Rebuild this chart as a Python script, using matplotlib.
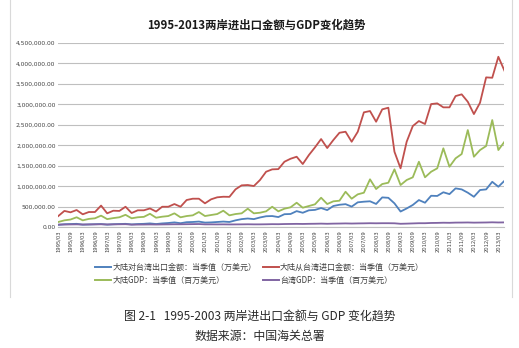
import numpy as np
import matplotlib
matplotlib.use('Agg')
import matplotlib.pyplot as plt
from matplotlib.lines import Line2D

plt.rcParams['font.family'] = ['Noto Sans CJK SC', 'DejaVu Sans']

# quarterly, 1995Q1 .. 2013Q2
quarters = [f'{y}/{m:02d}' for y in range(1995, 2014) for m in (3, 6, 9, 12)][:74]

# 大陆对台湾出口金额 (万美元)
export_tw = [60, 75, 80, 85, 65, 70, 75, 80, 65, 75, 80, 85, 70, 80, 85, 95,
             80, 95, 105, 120, 100, 125, 130, 140, 115, 120, 130, 140, 130, 170, 200, 215,
             200, 240, 270, 275, 250, 320, 325, 395, 355, 415, 425, 470, 420, 520, 550, 565,
             505, 610, 625, 635, 570, 730, 720, 585, 385, 460, 545, 665, 600, 770, 765, 855,
             810, 950, 925, 845, 745, 910, 925, 1110, 990, 1135]
# 大陆从台湾进口金额 (万美元)
import_tw = [275, 400, 366, 422, 317, 373, 373, 530, 341, 405, 400, 502, 349, 415, 415, 460,
             385, 502, 502, 568, 502, 666, 698, 698, 585, 683, 732, 746, 743, 927, 1024, 1032,
             1007, 1154, 1356, 1414, 1420, 1600, 1673, 1722, 1544, 1763, 1951, 2154, 1934, 2129, 2307, 2332,
             2088, 2332, 2805, 2837, 2576, 2878, 2918, 1844, 1439, 2088, 2471, 2593, 2520, 3007, 3024, 2927,
             2927, 3202, 3244, 3063, 2763, 3039, 3658, 3649, 4161, 3820]
# 大陆GDP (百万美元)
gdp_cn = [130, 170, 190, 245, 170, 205, 220, 285, 200, 225, 245, 305, 220, 245, 255, 330,
          234, 259, 275, 341, 244, 275, 292, 373, 275, 300, 324, 405, 292, 324, 341, 454,
          341, 356, 390, 502, 390, 454, 488, 600, 478, 520, 561, 722, 568, 634, 649, 868,
          698, 805, 844, 1171, 934, 1056, 1088, 1415, 1032, 1154, 1220, 1600, 1220, 1356, 1439, 1927,
          1478, 1683, 1788, 2373, 1722, 1885, 1983, 2617, 1885, 2088]
# 台湾GDP (百万美元)
gdp_tw = [66, 68, 70, 72, 68, 70, 72, 74, 70, 72, 74, 76, 66, 67, 68, 70,
          68, 70, 72, 74, 74, 76, 78, 80, 72, 72, 71, 72, 70, 71, 72, 74,
          72, 72, 74, 77, 76, 80, 82, 84, 82, 85, 87, 90, 86, 90, 92, 95,
          92, 95, 97, 100, 98, 100, 100, 98, 86, 90, 95, 100, 100, 106, 108, 112,
          110, 115, 116, 118, 114, 116, 118, 122, 118, 120]

labels = ['大陆对台湾出口金额：当季值（万美元）', '大陆从台湾进口金额：当季值（万美元）',
          '大陆GDP：当季值（百万美元）', '台湾GDP：当季值（百万美元）']
colors = ['#4F81BD', '#C0504D', '#9BBB59', '#8064A2']

fig = plt.figure(figsize=(5.19, 3.48), dpi=100)
ax = fig.add_axes([0.1123, 0.3468, 0.8597, 0.530])

x = np.arange(len(quarters))
series = [export_tw, import_tw, gdp_cn, gdp_tw]
for vals, c in zip(series, colors):
    ax.plot(x, np.array(vals) * 1000, color=c, lw=1.3, solid_joinstyle='round')

ax.set_xlim(0, len(quarters) - 1)
ax.set_ylim(0, 4500000)
ax.set_yticks(np.arange(0, 4500001, 500000))
ax.set_yticklabels([f'{v:,.2f}' for v in np.arange(0, 4500001, 500000)],
                   fontsize=4.3, color='#404040', family='DejaVu Sans')
ax.set_xticks(x[::2])
ax.set_xticklabels(quarters[::2], rotation=90, fontsize=3.7, color='#404040', family='DejaVu Sans')
ax.tick_params(axis='both', length=0, pad=2)
ax.grid(axis='y', color='#BFBFBF', lw=0.8)
ax.set_axisbelow(True)
for s in ['top', 'right', 'left']:
    ax.spines[s].set_visible(False)
ax.spines['bottom'].set_color('#BFBFBF')
ax.spines['bottom'].set_linewidth(0.8)

fig.text(0.494, 0.928, '1995-2013两岸进出口金额与GDP变化趋势', ha='center', va='center',
         fontsize=8.2, fontweight='bold', color='#1a1a1a')

handles = [Line2D([], [], color=c, lw=1.4) for c in colors]
order = [0, 2, 1, 3]
fig.legend([handles[i] for i in order], [labels[i] for i in order], ncol=2,
           loc='center', bbox_to_anchor=(0.5, 0.213), frameon=False, fontsize=5.8,
           handlelength=2.0, handletextpad=0.15, columnspacing=0.8, labelspacing=0.5,
           labelcolor='#404040')

# frame of the embedded chart
for fx in (0.0193, 0.9865):
    fig.add_artist(Line2D([fx, fx], [0.1466, 1.0], color='#D9D9D9', lw=0.8))

fig.text(0.50, 0.090, '图 2-1   1995-2003 两岸进出口金额与 GDP 变化趋势', ha='center', va='center',
         fontsize=8.6, color='#2a2a2a')
fig.text(0.50, 0.034, '数据来源：中国海关总署', ha='center', va='center',
         fontsize=8.6, color='#2a2a2a')

fig.savefig('out.png', dpi=100)
